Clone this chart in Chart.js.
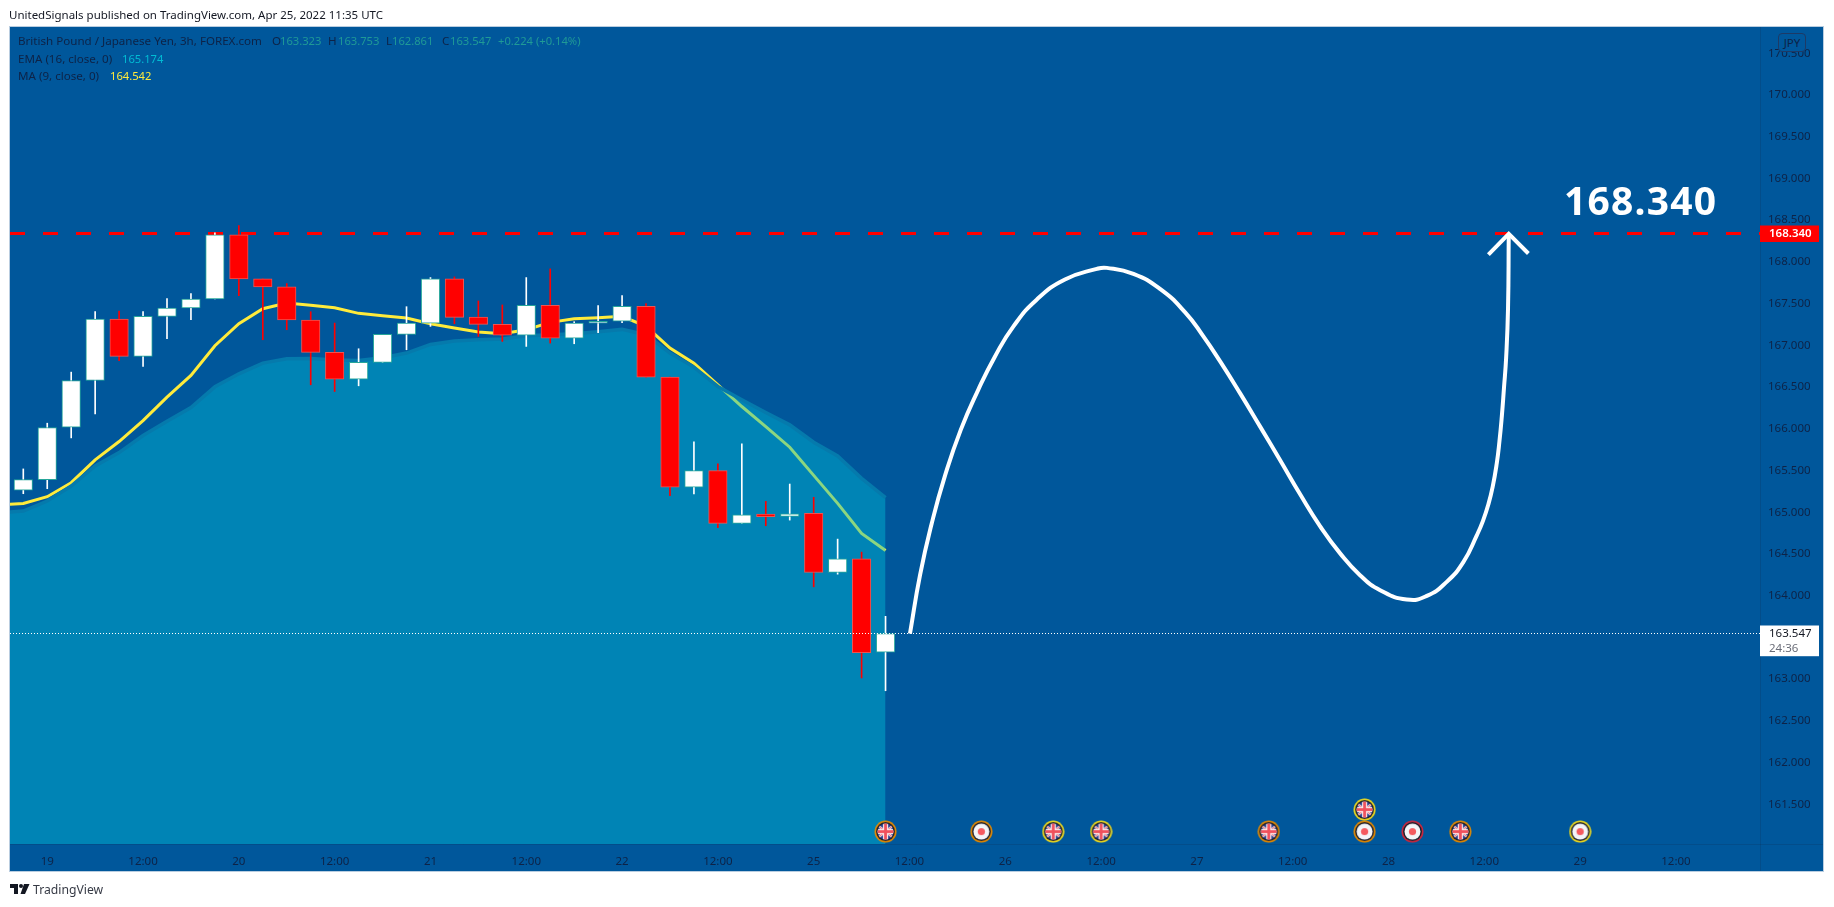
<!DOCTYPE html>
<html>
<head>
<meta charset="utf-8">
<title>GBPJPY 3h</title>
<script src="https://cdn.jsdelivr.net/npm/chart.js@4/dist/chart.umd.min.js"></script>
<style>
    html, body { margin: 0; padding: 0; background: #fff; }
    #wrap { position: relative; width: 1834px; height: 907px; overflow: hidden; font-family: "Noto Sans", sans-serif; }
    #chart1 { position: absolute; left: 0; top: 0; }
    .t { position: absolute; white-space: nowrap; line-height: 16px; font-size: 11.6px; color: #0d2347; }
    .v { font-size: 11.2px; }
    .up { color: #1f9a96; }
</style>
</head>
<body>
<div id="wrap">
    <canvas id="chart1" width="1834" height="907"></canvas>

    <div class="t" style="left:9px;top:7px;font-size:11.5px;color:#131722">UnitedSignals published on TradingView.com, Apr 25, 2022 11:35 UTC</div>

    <div class="t" style="left:18px;top:33px">British Pound / Japanese Yen, 3h, FOREX.com</div>
    <div class="t" style="left:272px;top:33px">O</div><div class="t v up" style="left:280px;top:33px">163.323</div>
    <div class="t" style="left:328px;top:33px">H</div><div class="t v up" style="left:338px;top:33px">163.753</div>
    <div class="t" style="left:386px;top:33px">L</div><div class="t v up" style="left:392px;top:33px">162.861</div>
    <div class="t" style="left:442px;top:33px">C</div><div class="t v up" style="left:450px;top:33px">163.547</div>
    <div class="t v up" style="left:498px;top:33px">+0.224 (+0.14%)</div>
    <div class="t" style="left:18px;top:51px">EMA (16, close, 0)</div>
    <div class="t v" style="left:122px;top:51px;color:#00bcd4">165.174</div>
    <div class="t" style="left:18px;top:68px">MA (9, close, 0)</div>
    <div class="t v" style="left:110px;top:68px;color:#ffeb3b">164.542</div>

    <div class="t" style="left:1778px;top:33px;width:26px;height:17px;line-height:17px;text-align:center;border:1px solid #1d3a66;border-radius:4px;background:#00579b">JPY</div>

    <div class="t" style="left:1564px;top:176px;font-size:39px;letter-spacing:1.2px;line-height:48px;font-weight:700;color:#fff">168.340</div>

    <svg style="position:absolute;left:10px;top:884px" width="20" height="11" viewBox="0 0 20 11">
        <path d="M0 0H8V10H4V4H0Z M14 0H19.5L15 10H10.5Z" fill="#131722"/>
        <circle cx="11" cy="2" r="2" fill="#131722"/>
    </svg>
    <div class="t" style="left:33px;top:882px;font-size:12.2px;color:#363a45">TradingView</div>
</div>

<script>
// bar 0 is the first candle on screen, one bar is 3h
const candleOpen = [165.263, 165.391, 166.019, 166.579, 167.315, 166.867, 167.347, 167.447, 167.555, 168.324,
    167.796, 167.700, 167.303, 166.915, 166.595, 166.795, 167.131, 167.267, 167.796, 167.339,
    167.251, 167.123, 167.479, 167.087, 167.267, 167.291, 167.467, 166.619, 165.299, 165.499,
    164.866, 164.978, 164.950, 164.987, 164.278, 164.442, 163.323]
const candleClose = [165.391, 166.015, 166.579, 167.315, 166.867, 167.347, 167.447, 167.555, 168.324, 167.796,
    167.700, 167.303, 166.915, 166.595, 166.795, 167.131, 167.267, 167.796, 167.335, 167.251,
    167.123, 167.479, 167.087, 167.267, 167.287, 167.467, 166.619, 165.299, 165.499, 164.866,
    164.970, 164.946, 164.982, 164.278, 164.442, 163.318, 163.547]
const candleHigh = [165.519, 166.067, 166.679, 167.403, 167.411, 167.403, 167.559, 167.619, 168.348, 168.436,
    167.796, 167.740, 167.403, 167.267, 166.959, 167.131, 167.463, 167.812, 167.820, 167.532,
    167.484, 167.812, 167.916, 167.283, 167.475, 167.595, 167.499, 166.619, 165.843, 165.579,
    165.819, 165.130, 165.338, 165.179, 164.678, 164.522, 163.753]
const candleLow = [165.222, 165.282, 165.891, 166.179, 166.815, 166.747, 167.079, 167.307, 167.555, 167.596,
    167.067, 167.187, 166.527, 166.447, 166.515, 166.795, 166.947, 167.227, 167.259, 167.107,
    167.047, 166.987, 167.027, 167.019, 167.151, 167.271, 166.619, 165.199, 165.219, 164.814,
    164.866, 164.838, 164.906, 164.106, 164.258, 163.014, 162.861]

// both averages start one bar left of the screen
const firstAvgBar = -1
const maValues = [165.086, 165.106, 165.186, 165.354, 165.627, 165.847, 166.099, 166.379, 166.639, 166.995,
    167.259, 167.439, 167.507, 167.479, 167.451, 167.383, 167.355, 167.327, 167.259, 167.207,
    167.159, 167.139, 167.187, 167.275, 167.319, 167.331, 167.347, 167.227, 166.967, 166.787,
    166.527, 166.267, 166.027, 165.779, 165.442, 165.106, 164.746, 164.542]
const emaValues = [164.994, 165.014, 165.134, 165.314, 165.554, 165.715, 165.919, 166.091, 166.255, 166.503,
    166.659, 166.787, 166.839, 166.843, 166.823, 166.819, 166.851, 166.907, 167.011, 167.051,
    167.067, 167.075, 167.115, 167.127, 167.139, 167.163, 167.191, 167.127, 166.907, 166.739,
    166.507, 166.347, 166.195, 166.047, 165.839, 165.675, 165.406, 165.174]

// hand drawn forecast curve
const pathBars = [37.02, 37.44, 37.93, 38.48, 39.14, 39.87, 40.57, 41.34, 42.31, 43.49, 44.82, 45.24,
    46.35, 47.46, 48.51, 49.27, 49.97, 50.8, 51.64, 52.47, 53.31, 54.14, 54.98, 55.81, 56.65, 57.76,
    58.6, 59.43, 60.13, 60.69, 60.94, 61.17, 61.35, 61.52, 61.63, 61.73, 61.82, 61.91, 61.99, 62.02]
const pathPrices = [163.546, 164.246, 164.867, 165.435, 165.987, 166.467, 166.867, 167.227, 167.547, 167.788, 167.916, 167.928,
    167.856, 167.676, 167.395, 167.107, 166.807, 166.427, 166.026, 165.627, 165.215, 164.834, 164.507, 164.246, 164.066, 163.954,
    163.998, 164.166, 164.406, 164.726, 164.894, 165.095, 165.306, 165.587, 165.846, 166.147, 166.487, 166.848, 167.448, 168.328]
const arrowBars = [61.17, 62.02, 62.84]
const arrowPrices = [168.088, 168.336, 168.100]

const targetPrice = 168.340
const lastPrice = 163.547
const countdown = "24:36"

const priceTicks = [161.5, 162, 162.5, 163, 163.5, 164, 164.5, 165, 165.5, 166, 166.5, 167, 167.5, 168, 168.5, 169, 169.5, 170, 170.5]
const timeTickBars = [1, 5, 9, 13, 17, 21, 25, 29, 33, 37, 41, 45, 49, 53, 57, 61, 65, 69]
const timeTickLabels = ["19", "12:00", "20", "12:00", "21", "12:00", "22", "12:00", "25", "12:00", "26", "12:00", "27", "12:00", "28", "12:00", "29", "12:00"]

const eventBars = [36, 40, 43, 45, 52, 56, 56, 58, 60, 65]
const eventLevels = [161.173, 161.173, 161.173, 161.173, 161.173, 161.173, 161.437, 161.173, 161.173, 161.173]
const eventKinds = ["uk", "dot", "uk", "uk", "uk", "dot", "uk", "dot", "uk", "dot"]
const eventImpact = ["mid", "mid", "low", "low", "mid", "mid", "low", "high", "mid", "low"]

const barMin = -0.555
const barMax = 72.51
const priceMin = 161.0247
const priceMax = 170.8144

const bg = "#00579b"
const axisText = "#0d2347"
const axisFont = { family: "'Noto Sans', sans-serif", size: 11.5 }
const ringColors = { low: "#f2dc1e", mid: "#e58a00", high: "#c8283f" }

function isUp(i) {
    return candleClose[i] >= candleOpen[i]
}

function makeIcon(kind, impact) {
    const c = document.createElement("canvas")
    c.width = c.height = 23
    const g = c.getContext("2d")
    const m = 11.5
    g.fillStyle = ringColors[impact]
    g.beginPath(); g.arc(m, m, 11, 0, Math.PI * 2); g.fill()
    g.fillStyle = "#1a1d2b"
    g.beginPath(); g.arc(m, m, 9.4, 0, Math.PI * 2); g.fill()
    g.save()
    g.beginPath(); g.arc(m, m, 8, 0, Math.PI * 2); g.clip()
    if (kind === "dot") {
        g.fillStyle = "#f4f5f8"
        g.fillRect(0, 0, 23, 23)
        g.fillStyle = "#f55a5f"
        g.beginPath(); g.arc(m, m, 3.6, 0, Math.PI * 2); g.fill()
    } else {
        g.fillStyle = "#27408f"
        g.fillRect(0, 0, 23, 23)
        g.strokeStyle = "#f4dfe0"
        g.lineWidth = 2.4
        g.beginPath(); g.moveTo(2, 4); g.lineTo(21, 19); g.moveTo(21, 4); g.lineTo(2, 19); g.stroke()
        g.strokeStyle = "#f05a66"
        g.lineWidth = 0.9
        g.beginPath(); g.moveTo(2, 4); g.lineTo(21, 19); g.moveTo(21, 4); g.lineTo(2, 19); g.stroke()
        g.fillStyle = "#f7eaea"
        g.fillRect(m - 2.6, 0, 5.2, 23)
        g.fillRect(0, m - 2.6, 23, 5.2)
        g.fillStyle = "#f0505c"
        g.fillRect(m - 1.4, 0, 2.8, 23)
        g.fillRect(0, m - 1.4, 23, 2.8)
    }
    g.restore()
    return c
}

// panel behind the plot, price labels on top of the axis
const panelPlugin = {
    id: "panel",
    beforeDraw(chart) {
        const { ctx, chartArea: a } = chart
        const left = a.left, top = a.top, right = chart.scales.y.right, bottom = chart.scales.x.bottom
        ctx.save()
        ctx.fillStyle = bg
        ctx.fillRect(left, top, right - left, bottom - top)
        ctx.strokeStyle = "#b9cde0"
        ctx.lineWidth = 1
        ctx.strokeRect(left - 0.5, top - 0.5, right - left + 1, bottom - top + 1)
        ctx.strokeStyle = "rgba(19,23,34,0.14)"
        ctx.beginPath()
        ctx.moveTo(a.right + 0.5, top)
        ctx.lineTo(a.right + 0.5, bottom)
        ctx.moveTo(left, a.bottom + 0.5)
        ctx.lineTo(right, a.bottom + 0.5)
        ctx.stroke()
        ctx.restore()
    },
    afterDraw(chart) {
        const { ctx, chartArea: a, scales: { y } } = chart
        const boxW = 59
        ctx.save()
        ctx.textBaseline = "middle"
        ctx.textAlign = "left"
        ctx.font = "600 11.5px 'Noto Sans', sans-serif"

        let py = y.getPixelForValue(targetPrice)
        ctx.fillStyle = "#ff0000"
        ctx.fillRect(a.right, py - 8, boxW, 16.5)
        ctx.fillStyle = "#ffffff"
        ctx.fillText(targetPrice.toFixed(3), a.right + 9, py + 0.5)

        py = y.getPixelForValue(lastPrice)
        ctx.fillStyle = "#ffffff"
        ctx.fillRect(a.right, py - 8, boxW, 30.7)
        ctx.font = "11.5px 'Noto Sans', sans-serif"
        ctx.fillStyle = "#131722"
        ctx.fillText(lastPrice.toFixed(3), a.right + 9, py + 0.5)
        ctx.fillStyle = "#6a6d78"
        ctx.fillText(countdown, a.right + 9, py + 15)
        ctx.restore()
    }
}

function xy(bars, values) {
    return bars.map((b, i) => ({ x: b, y: values[i] }))
}

const allBars = candleOpen.map((_, i) => i)
const avgBars = maValues.map((_, i) => i + firstAvgBar)

const chartData = {
    type: "bar",
    data: {
        datasets: [
            {
                type: "line", label: "MA", order: 8,
                data: xy(avgBars, maValues),
                borderColor: "#ffeb3b", borderWidth: 3, pointRadius: 0, tension: 0
            },
            {
                type: "line", label: "EMA", order: 7,
                data: xy(avgBars, emaValues),
                borderColor: "rgb(5,122,172)", borderWidth: 3.5, pointRadius: 0, tension: 0,
                fill: "start", backgroundColor: "rgba(0,188,212,0.45)"
            },
            {
                type: "line", label: "target", order: 6,
                data: xy([barMin, barMax], [targetPrice, targetPrice]),
                borderColor: "#ff0000", borderWidth: 3, borderDash: [15, 18], pointRadius: 0
            },
            {
                label: "wicks", order: 5, grouped: false, barThickness: 1, borderWidth: 0,
                data: allBars.map(i => ({ x: i, y: [candleLow[i], candleHigh[i]] })),
                backgroundColor: allBars.map(i => isUp(i) ? "#ffffff" : "#ff0000")
            },
            {
                label: "bodies", order: 4, grouped: false, barThickness: 18.5, borderWidth: 1, borderSkipped: false,
                data: allBars.map(i => ({ x: i, y: [candleOpen[i], candleClose[i]] })),
                backgroundColor: allBars.map(i => isUp(i) ? "#ffffff" : "#ff0000"),
                borderColor: allBars.map(i => isUp(i) ? "#26a69a" : "#ef5350")
            },
            {
                type: "line", label: "last", order: 3,
                data: xy([barMin, barMax], [lastPrice, lastPrice]),
                borderColor: "#ffffff", borderWidth: 1, borderDash: [1, 2], pointRadius: 0
            },
            {
                type: "line", label: "path", order: 2,
                data: xy(pathBars, pathPrices),
                borderColor: "#ffffff", borderWidth: 4, pointRadius: 0, tension: 0.5
            },
            {
                type: "line", label: "arrow", order: 1,
                data: xy(arrowBars, arrowPrices),
                borderColor: "#ffffff", borderWidth: 4, pointRadius: 0, tension: 0
            },
            {
                type: "line", label: "events", order: 0, showLine: false,
                data: xy(eventBars, eventLevels),
                pointRadius: 11,
                pointStyle: eventKinds.map((k, i) => makeIcon(k, eventImpact[i]))
            }
        ]
    },
    options: {
        responsive: false,
        animation: false,
        events: [],
        layout: { autoPadding: false, padding: { left: 10, top: 27, right: 11, bottom: 36 } },
        plugins: { legend: { display: false }, tooltip: { enabled: false }, title: { display: false } },
        scales: {
            x: {
                type: "linear",
                min: barMin,
                max: barMax,
                offset: false,
                grid: { display: false, offset: false },
                border: { display: false },
                afterBuildTicks(scale) {
                    scale.ticks = timeTickBars.map(v => ({ value: v }))
                },
                afterFit(scale) {
                    scale.height = 27
                    scale.paddingLeft = 0
                    scale.paddingRight = 0
                },
                ticks: {
                    autoSkip: false,
                    maxRotation: 0,
                    padding: 3,
                    color: axisText,
                    font: axisFont,
                    callback(v) {
                        return timeTickLabels[timeTickBars.indexOf(v)]
                    }
                }
            },
            y: {
                type: "linear",
                position: "right",
                min: priceMin,
                max: priceMax,
                grid: { display: false },
                border: { display: false },
                afterBuildTicks(scale) {
                    scale.ticks = priceTicks.map(v => ({ value: v }))
                },
                afterFit(scale) {
                    scale.width = 63
                },
                ticks: {
                    autoSkip: false,
                    padding: 0,
                    color: axisText,
                    font: axisFont,
                    callback(v) {
                        return v.toFixed(3)
                    }
                }
            }
        }
    },
    plugins: [panelPlugin]
}

const ctx = document.getElementById("chart1").getContext("2d")
new Chart(ctx, chartData)
</script>
</body>
</html>
